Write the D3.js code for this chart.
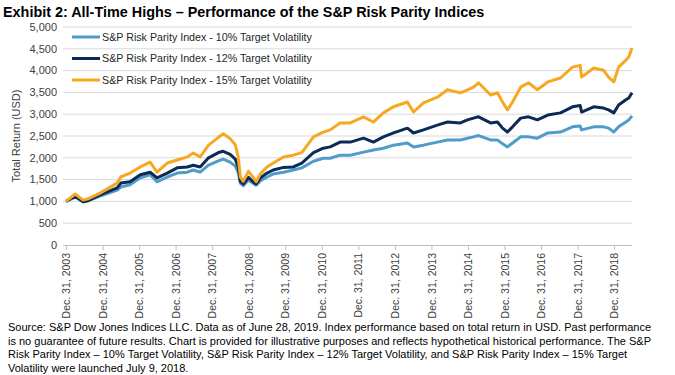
<!DOCTYPE html>
<html lang="en">
<head>
<meta charset="UTF-8">
<title>S&P Risk Parity Indices</title>
<script src="https://d3js.org/d3.v7.min.js"></script>
<style>
    body { margin: 0; background: #fff; font-family: 'Liberation Sans', Arial, sans-serif; }
    svg { display: block; }
</style>
</head>
<body>
<div id="chart"></div>
<script>
// --- data ---
const dates = [
    "2003-12-31", "2004-04-01", "2004-06-20", "2004-08-07", "2004-12-05",
    "2005-05-26", "2005-07-01", "2005-10-01", "2006-01-12", "2006-04-20",
    "2006-06-28", "2006-10-08", "2007-01-15", "2007-04-27", "2007-06-25",
    "2007-09-02", "2007-11-25", "2008-03-03", "2008-04-20", "2008-06-28",
    "2008-08-18", "2008-09-16", "2008-10-08", "2008-11-06", "2008-12-28",
    "2009-02-14", "2009-03-15", "2009-05-01", "2009-07-02", "2009-09-02",
    "2009-12-13", "2010-03-22", "2010-06-14", "2010-10-09", "2011-01-15",
    "2011-03-25", "2011-07-02", "2011-10-12", "2012-02-21", "2012-05-30",
    "2012-09-06", "2012-12-17", "2013-05-05", "2013-07-05", "2013-10-12",
    "2014-02-28", "2014-06-10", "2014-10-16", "2014-12-27", "2015-02-24",
    "2015-04-16", "2015-08-14", "2015-10-22", "2015-12-12", "2016-01-30",
    "2016-03-21", "2016-06-10", "2016-08-28", "2016-11-24", "2017-03-08",
    "2017-07-13", "2017-11-10", "2018-01-26", "2018-02-09", "2018-06-10",
    "2018-09-16", "2018-11-06", "2018-12-28", "2019-02-14", "2019-04-28",
    "2019-05-27", "2019-06-28"
];

const vol10 = [
    1000, 1100, 990, 1010, 1120, 1260, 1330, 1380, 1540, 1610,
    1450, 1560, 1650, 1670, 1720, 1670, 1830, 1930, 1970, 1900,
    1810, 1670, 1420, 1360, 1490, 1410, 1370, 1480, 1560, 1630,
    1670, 1720, 1770, 1920, 1990, 1990, 2060, 2060, 2130, 2180,
    2220, 2290, 2340, 2250, 2290, 2360, 2410, 2410, 2450, 2480,
    2510, 2410, 2410, 2320, 2250, 2340, 2480, 2480, 2450, 2570,
    2590, 2710, 2730, 2640, 2710, 2710, 2680, 2590, 2710, 2820,
    2870, 2960
];

const vol12 = [
    1000, 1120, 990, 1020, 1150, 1310, 1420, 1450, 1610, 1670,
    1540, 1650, 1770, 1790, 1830, 1790, 2000, 2120, 2150, 2080,
    1970, 1790, 1460, 1400, 1550, 1450, 1400, 1550, 1650, 1720,
    1780, 1790, 1880, 2120, 2220, 2250, 2360, 2360, 2450, 2360,
    2480, 2570, 2680, 2570, 2640, 2750, 2820, 2800, 2870, 2910,
    2940, 2800, 2820, 2680, 2590, 2710, 2910, 2940, 2870, 2980,
    3030, 3170, 3200, 3050, 3170, 3140, 3100, 3030, 3210, 3330,
    3370, 3490
];

const vol15 = [
    1000, 1170, 1030, 1060, 1190, 1420, 1560, 1650, 1790, 1900,
    1670, 1880, 1950, 2020, 2110, 2020, 2290, 2470, 2550, 2440,
    2300, 2020, 1560, 1460, 1690, 1550, 1450, 1650, 1790, 1880,
    2020, 2060, 2120, 2480, 2590, 2640, 2800, 2800, 2940, 2820,
    3030, 3170, 3280, 3050, 3260, 3390, 3560, 3490, 3560, 3620,
    3720, 3440, 3490, 3280, 3100, 3280, 3620, 3720, 3560, 3740,
    3830, 4080, 4120, 3850, 4060, 4010, 3850, 3740, 4080, 4240,
    4310, 4520
];

const seriesNames = [
    "S&P Risk Parity Index - 10% Target Volatility",
    "S&P Risk Parity Index - 12% Target Volatility",
    "S&P Risk Parity Index - 15% Target Volatility"
];
const seriesColors = ["#4f9bc9", "#0b2b57", "#f7a823"];

const yTicks = [0, 500, 1000, 1500, 2000, 2500, 3000, 3500, 4000, 4500, 5000];
const xTickYears = d3.range(2003, 2019);

const titleText = "Exhibit 2: All-Time Highs \u2013 Performance of the S&P Risk Parity Indices";
const yTitle = "Total Return (USD)";
const footnote = [
    "Source: S&P Dow Jones Indices LLC. Data as of June 28, 2019. Index performance based on total return in USD. Past performance",
    "is no guarantee of future results. Chart is provided for illustrative purposes and reflects hypothetical historical performance. The S&P",
    "Risk Parity Index \u2013 10% Target Volatility, S&P Risk Parity Index \u2013 12% Target Volatility, and S&P Risk Parity Index \u2013 15% Target",
    "Volatility were launched July 9, 2018."
];

// --- chart ---
const width = 675, height = 375;
const parse = d3.timeParse("%Y-%m-%d");
const dateObjs = dates.map(parse);

const svg = d3.select("#chart").append("svg")
    .attr("width", width)
    .attr("height", height);

const x = d3.scaleTime()
    .domain([parse("2003-12-31"), parse("2019-06-28")])
    .range([66, 632]);

const y = d3.scaleLinear()
    .domain([0, 5000])
    .range([245, 27]);

// title
svg.append("text")
    .attr("x", 3)
    .attr("y", 17)
    .attr("font-size", 14.4)
    .attr("font-weight", "bold")
    .attr("fill", "#000")
    .text(titleText);

// gridlines
svg.append("g")
    .selectAll("line")
    .data(yTicks.filter(d => d > 0))
    .enter().append("line")
    .attr("x1", 63).attr("x2", 632)
    .attr("y1", d => y(d)).attr("y2", d => y(d))
    .attr("stroke", "#d9d9d9")
    .attr("stroke-width", 1);

// y axis labels
svg.append("g")
    .selectAll("text")
    .data(yTicks)
    .enter().append("text")
    .attr("x", 57)
    .attr("y", d => y(d))
    .attr("dy", "0.35em")
    .attr("text-anchor", "end")
    .attr("font-size", 11)
    .attr("fill", "#404040")
    .text(d => d3.format(",")(d));

// y axis title
svg.append("text")
    .attr("transform", "translate(20,136) rotate(-90)")
    .attr("text-anchor", "middle")
    .attr("font-size", 11)
    .attr("fill", "#404040")
    .text(yTitle);

// x axis
const xAxis = d3.axisBottom(x)
    .tickValues(xTickYears.map(yr => new Date(yr, 11, 31)))
    .tickSize(5)
    .tickFormat(d => "Dec. 31, " + d.getFullYear());

const gx = svg.append("g")
    .attr("transform", "translate(0,245)")
    .call(xAxis);
gx.select(".domain").attr("stroke", "#bfbfbf").attr("d", "M63,0.5H632");
gx.selectAll(".tick line").attr("stroke", "#bfbfbf");
gx.selectAll(".tick text")
    .attr("font-family", "'Liberation Sans', Arial, sans-serif")
    .attr("font-size", 10.5)
    .attr("fill", "#404040")
    .attr("transform", "rotate(-90)")
    .attr("text-anchor", "end")
    .attr("x", -8)
    .attr("y", 0)
    .attr("dy", "0.35em");

// lines
const line = d3.line()
    .x((d, i) => x(dateObjs[i]))
    .y(d => y(d));

[vol10, vol12, vol15].forEach((s, k) => {
    svg.append("path")
        .datum(s)
        .attr("d", line)
        .attr("fill", "none")
        .attr("stroke", seriesColors[k])
        .attr("stroke-width", 3)
        .attr("stroke-linejoin", "round");
});

// legend
const legend = svg.append("g");
seriesNames.forEach((name, k) => {
    const ly = 37 + k * 21.5;
    legend.append("line")
        .attr("x1", 72).attr("x2", 100)
        .attr("y1", ly).attr("y2", ly)
        .attr("stroke", seriesColors[k])
        .attr("stroke-width", 3);
    legend.append("text")
        .attr("x", 102)
        .attr("y", ly)
        .attr("dy", "0.35em")
        .attr("font-size", 10.7)
        .attr("fill", "#262626")
        .text(name);
});

// footnote
svg.append("g")
    .selectAll("text")
    .data(footnote)
    .enter().append("text")
    .attr("x", 8)
    .attr("y", (d, i) => 331 + i * 13.7)
    .attr("font-size", 11)
    .attr("fill", "#000")
    .text(d => d);
</script>
</body>
</html>
